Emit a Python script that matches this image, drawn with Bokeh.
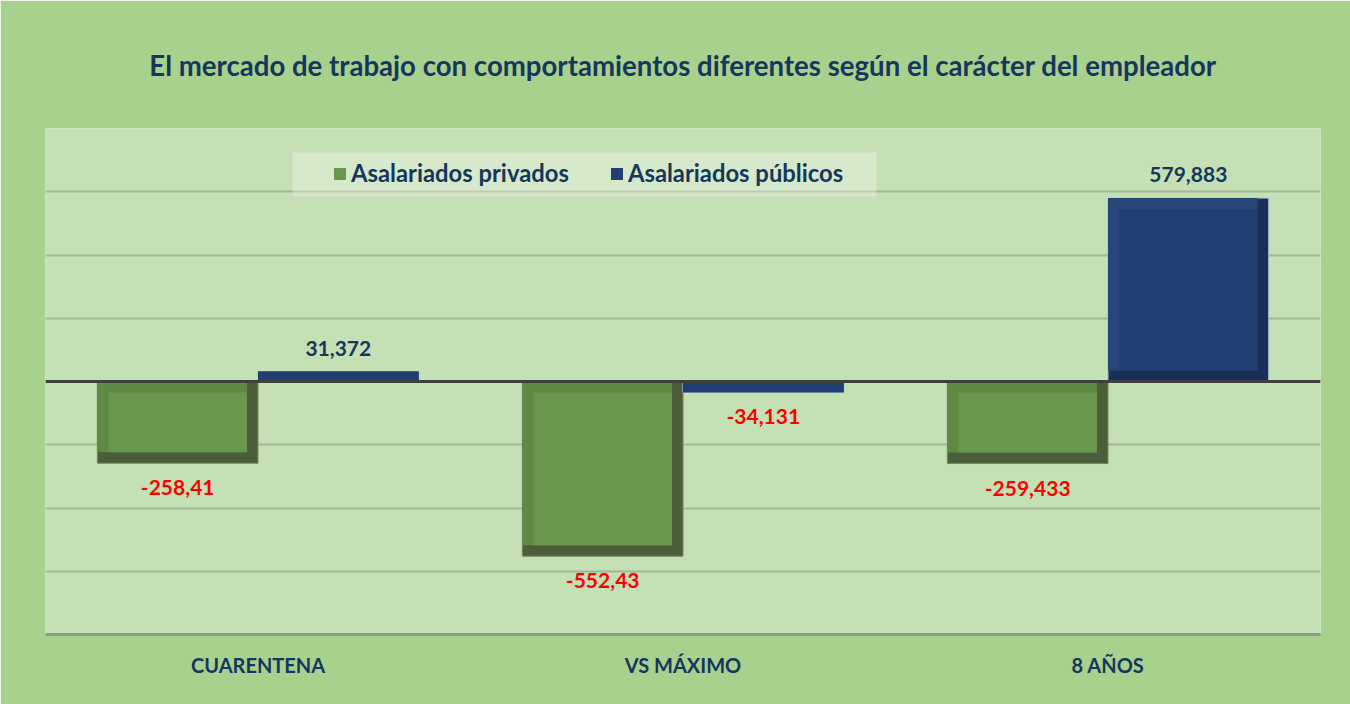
import numpy as np
from bokeh.plotting import figure
from bokeh.models import (FactorRange, ColumnDataSource, Span, LabelSet, Legend, LegendItem,
                          FixedTicker, BoxAnnotation)
from bokeh.core.properties import value
from bokeh.embed import file_html
from bokeh.resources import INLINE

# ---- data ----
categories = ["CUARENTENA", "VS MÁXIMO", "8 AÑOS"]
series_names = ["Asalariados privados", "Asalariados públicos"]
privados = [-258410, -552430, -259433]
publicos = [31372, -34131, 579883]
privados_labels = ["-258,41", "-552,43", "-259,433"]
publicos_labels = ["31,372", "-34,131", "579,883"]
y_ticks = [-600000, -400000, -200000, 0, 200000, 400000, 600000]
title_text = "El mercado de trabajo con comportamientos diferentes según el carácter del empleador"

FONT = "Lato"
NAVY = "#17365d"
RED = "#ff0000"
Y_MIN, Y_MAX = -800000, 800000

W, H = 1350, 704
B_LEFT, B_RIGHT, B_TOP, B_BOTTOM = 45, 30, 127, 70
frame_w = W - B_LEFT - B_RIGHT
frame_h = H - B_TOP - B_BOTTOM

p = figure(width=W, height=H, output_backend="svg", toolbar_location=None,
           x_range=FactorRange(factors=categories, range_padding=0),
           y_range=(Y_MIN, Y_MAX),
           min_border_left=B_LEFT, min_border_right=B_RIGHT,
           min_border_top=B_TOP, min_border_bottom=B_BOTTOM,
           background_fill_color="#c5e0b4", border_fill_color="#a9d18e",
           outline_line_color=None)

p.title.text = title_text
p.title.align = "center"
p.title.offset = 7
p.title.text_font = FONT
p.title.text_font_size = "27.6px"
p.title.text_font_style = "bold"
p.title.text_color = NAVY
p.title.standoff = 93

p.yaxis.visible = False
p.xgrid.visible = False
p.ygrid.ticker = FixedTicker(ticks=y_ticks)
p.ygrid.grid_line_color = "#a2b598"
p.ygrid.grid_line_width = 2

xa = p.xaxis[0]
xa.axis_line_color = "#8c9c83"
xa.axis_line_width = 3
xa.major_tick_line_color = None
xa.minor_tick_line_color = None
xa.major_label_text_font = FONT
xa.major_label_text_font_style = "bold"
xa.major_label_text_font_size = "20px"
xa.major_label_text_color = NAVY
xa.major_label_standoff = 12

# bar geometry (in category units / pixel bevel)
BAR_W = 0.378
OFFSETS = [-BAR_W / 2, BAR_W / 2]
BEV_PX = 11
bev_x = BEV_PX / (frame_w / len(categories))
bev_y = BEV_PX * (Y_MAX - Y_MIN) / frame_h

styles = [
    dict(dark="#4a5e39", mid="#5f8945", face="#6a974d", line="#76866b"),
    dict(dark="#1a2f55", mid="#284577", face="#213f72", line="#a9bad3"),
]

legend_items = []
for k, (vals, st) in enumerate(zip([privados, publicos], styles)):
    v = np.array(vals, dtype=float)
    centers = np.arange(len(categories)) + 0.5 + OFFSETS[k]
    top = np.maximum(v, 0)
    bottom = np.minimum(v, 0)
    big = (top - bottom) > 3 * bev_y
    ix = np.where(big, bev_x, 0.0)
    iy = np.where(big, bev_y, 0.0)
    left = centers - BAR_W / 2
    right = centers + BAR_W / 2
    src = ColumnDataSource(dict(
        left=left, right=right, top=top, bottom=bottom,
        m_right=right - ix, m_bottom=bottom + iy,
        f_left=left + ix, f_right=right - ix, f_top=top - iy, f_bottom=bottom + iy,
    ))
    p.quad(left="left", right="right", top="top", bottom="bottom", source=src,
           fill_color=st["dark"], line_color=st["line"], line_width=1)
    p.quad(left="left", right="m_right", top="top", bottom="m_bottom", source=src,
           fill_color=st["mid"], line_color=None)
    r_face = p.quad(left="f_left", right="f_right", top="f_top", bottom="f_bottom", source=src,
                    fill_color=st["face"], line_color=None)
    legend_items.append(LegendItem(label=series_names[k], renderers=[r_face]))

# data labels
labels_all = [privados_labels, publicos_labels]
vals_all = [privados, publicos]
pos = dict(x=[], y=[], t=[])
neg = dict(x=[], y=[], t=[])
for k in range(2):
    for i, (v, t) in enumerate(zip(vals_all[k], labels_all[k])):
        xx = i + 0.5 + OFFSETS[k]
        d = pos if v >= 0 else neg
        d["x"].append(xx); d["y"].append(v); d["t"].append(t)

p.add_layout(LabelSet(x="x", y="y", text="t", source=ColumnDataSource(pos),
                      text_align="center", text_baseline="bottom", y_offset=16,
                      text_font=value(FONT), text_font_style="bold", text_font_size="21px",
                      text_color=NAVY))
p.add_layout(LabelSet(x="x", y="y", text="t", source=ColumnDataSource(neg),
                      text_align="center", text_baseline="top", y_offset=-17,
                      text_font=value(FONT), text_font_style="bold", text_font_size="21px",
                      text_color=RED))

# zero line
p.add_layout(Span(location=0, dimension="width", line_color="#3f3f3f", line_width=3))

# legend background box (screen units, frame-relative)
p.add_layout(BoxAnnotation(left=247, right=831, top=frame_h - 25, bottom=frame_h - 69,
                           left_units="screen", right_units="screen",
                           top_units="screen", bottom_units="screen",
                           fill_color="white", fill_alpha=0.3, line_color=None,
                           level="underlay"))

legend = Legend(items=legend_items, orientation="horizontal", location=(287, 447),
                background_fill_alpha=0, border_line_color=None,
                label_text_font=FONT, label_text_font_style="bold",
                label_text_font_size="23.8px", label_text_color=NAVY,
                glyph_width=15, glyph_height=15, label_standoff=4, spacing=40,
                padding=4, margin=0)
p.add_layout(legend, "center")

open("out.html", "w").write(file_html(p, INLINE))
